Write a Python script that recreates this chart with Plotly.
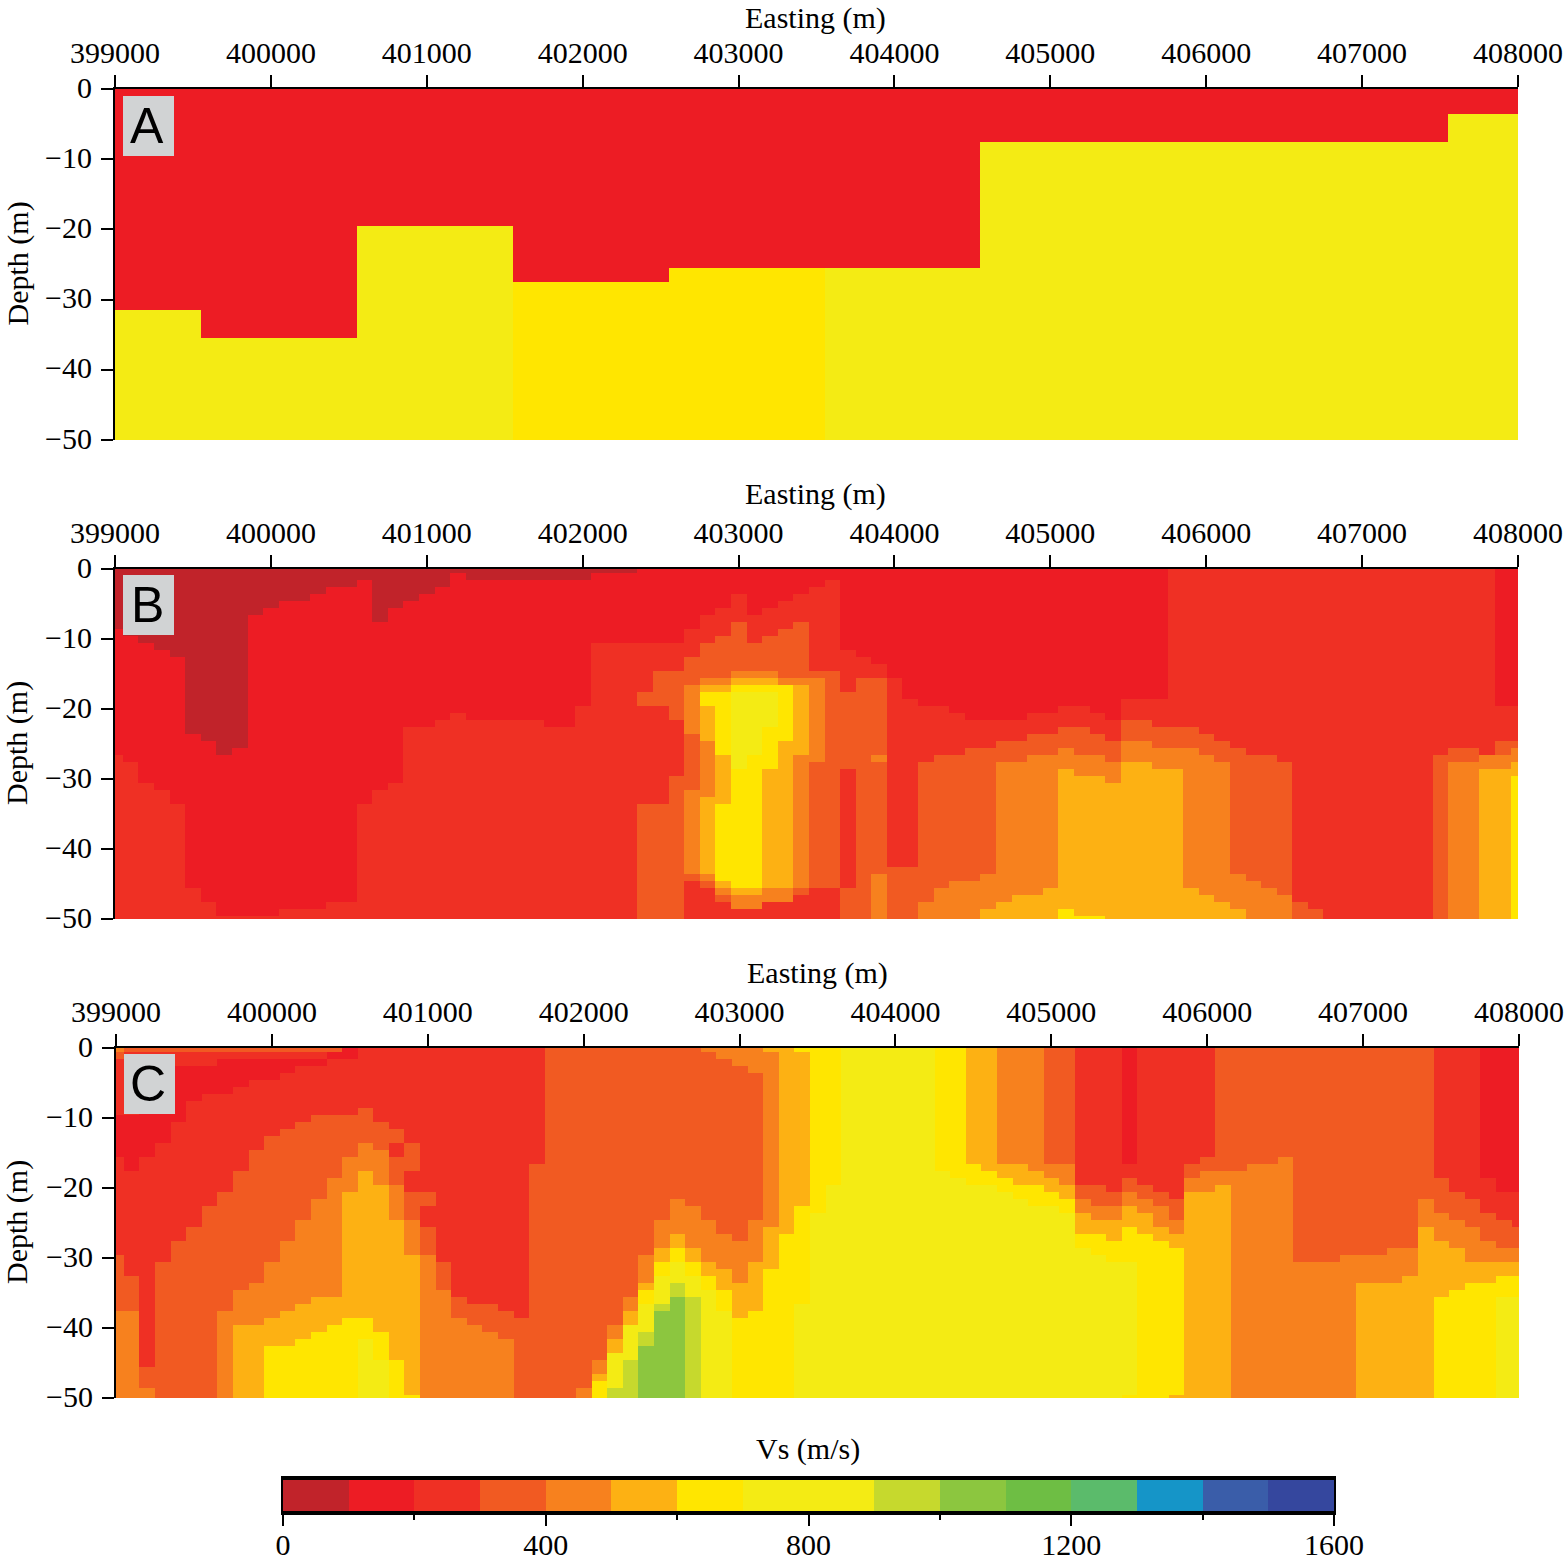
"""Shear wave velocity sections A, B and C with plotly"""
import plotly.graph_objects as go

# axes
easting = [399000 + 100 * i for i in range(91)]
depth = [-i for i in range(51)]
easting_ticks = [399000, 400000, 401000, 402000, 403000, 404000, 405000, 406000, 407000, 408000]
depth_ticks = [0, -10, -20, -30, -40, -50]
depth_labels = ['0', '\u221210', '\u221220', '\u221230', '\u221240', '\u221250']

# colour classes, 100 m/s wide
vs_classes = [50, 150, 250, 350, 450, 550, 650, 750, 850, 950, 1050, 1150, 1250, 1350, 1450, 1550]
vs_colors = ['#C1232A', '#ED1C24', '#EF3024', '#F15A22', '#F7811E', '#FDB113', '#FFE600', '#F4EB14',
             '#F4EB14', '#C6D92D', '#8CC63F', '#6EBE44', '#5BBB6B', '#1595C8', '#3A5DA9', '#35479E']
vs_ticks = [0, 400, 800, 1200, 1600]
vs_minor_ticks = [200, 600, 1000, 1400]

# every column below: (vs, deepest metre of that layer), from the surface down
# panel A: (number of columns, interface depth, vs below the interface)
panel_a_blocks = [(6, 31, 750), (10, 35, 750), (10, 19, 750), (10, 27, 650),
                  (10, 25, 650), (10, 25, 750), (30, 7, 750), (5, 3, 750)]

panel_b_columns = [
    [(50, 8), (150, 26), (250, 50)],
    [(50, 9), (150, 27), (250, 50)],
    [(50, 10), (150, 30), (250, 50)],
    [(50, 11), (150, 31), (250, 50)],
    [(50, 12), (150, 33), (250, 50)],
    [(50, 23), (150, 45), (250, 50)],
    [(50, 24), (150, 47), (250, 50)],
    [(50, 26), (150, 49), (250, 50)],
    [(50, 25), (150, 49), (250, 50)],
    [(50, 6), (150, 49), (250, 50)],
    [(50, 5), (150, 49), (250, 50)],
    [(50, 4), (150, 48), (250, 50)],
    [(50, 4), (150, 48), (250, 50)],
    [(50, 3), (150, 48), (250, 50)],
    [(50, 2), (150, 47), (250, 50)],
    [(50, 2), (150, 47), (250, 50)],
    [(50, 1), (150, 33), (250, 50)],
    [(50, 7), (150, 31), (250, 50)],
    [(50, 5), (150, 30), (250, 50)],
    [(50, 4), (150, 22), (250, 50)],
    [(50, 3), (150, 22), (250, 50)],
    [(50, 2), (150, 21), (250, 50)],
    [(50, 0), (150, 20), (250, 50)],
    [(50, 1), (150, 21), (250, 50)],
    [(50, 1), (150, 21), (250, 50)],
    [(50, 1), (150, 21), (250, 50)],
    [(50, 1), (150, 21), (250, 50)],
    [(50, 1), (150, 21), (250, 50)],
    [(50, 1), (150, 22), (250, 50)],
    [(50, 1), (150, 22), (250, 50)],
    [(50, 1), (150, 19), (250, 50)],
    [(50, 0), (150, 10), (250, 50)],
    [(50, 0), (150, 10), (250, 50)],
    [(50, 0), (150, 10), (250, 50)],
    [(150, 10), (250, 17), (350, 19), (250, 33), (350, 50)],
    [(150, 10), (250, 14), (350, 19), (250, 33), (350, 50)],
    [(150, 10), (250, 14), (350, 21), (250, 29), (350, 50)],
    [(150, 8), (250, 12), (350, 16), (450, 23), (350, 31), (450, 43), (350, 44), (250, 50)],
    [(150, 6), (250, 10), (350, 15), (450, 16), (550, 17), (650, 19), (550, 24), (450, 32), (550, 43), (450, 44), (350, 45), (250, 50)],
    [(150, 5), (250, 9), (350, 15), (450, 16), (550, 17), (650, 26), (550, 33), (650, 44), (550, 45), (450, 46), (350, 47), (250, 50)],
    [(150, 3), (250, 7), (350, 14), (450, 15), (550, 16), (650, 17), (750, 28), (650, 45), (550, 46), (450, 48), (250, 50)],
    [(150, 6), (250, 10), (350, 14), (450, 15), (550, 16), (650, 17), (750, 26), (650, 45), (550, 46), (450, 48), (250, 50)],
    [(150, 5), (250, 9), (350, 14), (450, 15), (550, 16), (650, 17), (750, 22), (650, 28), (550, 45), (450, 47), (250, 50)],
    [(150, 4), (250, 8), (350, 15), (450, 16), (650, 24), (550, 45), (450, 47), (250, 50)],
    [(150, 3), (250, 7), (350, 15), (450, 16), (550, 26), (450, 45), (350, 46), (250, 50)],
    [(150, 2), (250, 14), (350, 15), (450, 27), (350, 45), (250, 50)],
    [(150, 1), (250, 14), (350, 45), (250, 50)],
    [(150, 11), (250, 17), (350, 28), (250, 45), (350, 50)],
    [(150, 12), (250, 15), (350, 50)],
    [(150, 13), (250, 15), (350, 26), (450, 27), (350, 43), (450, 50)],
    [(150, 15), (250, 42), (350, 50)],
    [(150, 18), (250, 42), (350, 50)],
    [(150, 19), (250, 27), (350, 47), (450, 50)],
    [(150, 19), (250, 26), (350, 45), (450, 50)],
    [(150, 20), (250, 26), (350, 44), (450, 50)],
    [(150, 21), (250, 25), (350, 44), (450, 50)],
    [(150, 21), (250, 25), (350, 43), (450, 48), (550, 50)],
    [(150, 21), (250, 24), (350, 27), (450, 47), (550, 50)],
    [(150, 21), (250, 24), (350, 27), (450, 46), (550, 50)],
    [(150, 20), (250, 23), (350, 26), (450, 46), (550, 50)],
    [(150, 20), (250, 23), (350, 26), (450, 45), (550, 50)],
    [(150, 19), (250, 22), (350, 25), (450, 28), (550, 48), (650, 50)],
    [(150, 19), (250, 22), (350, 26), (450, 29), (550, 49), (650, 50)],
    [(150, 20), (250, 23), (350, 26), (450, 29), (550, 49), (650, 50)],
    [(150, 21), (250, 24), (350, 27), (450, 30), (550, 50)],
    [(150, 18), (250, 21), (350, 24), (450, 27), (550, 50)],
    [(150, 18), (250, 21), (350, 24), (450, 27), (550, 50)],
    [(150, 18), (250, 22), (350, 25), (450, 28), (550, 50)],
    [(250, 22), (350, 25), (450, 28), (550, 50)],
    [(250, 22), (350, 25), (450, 45), (550, 50)],
    [(250, 23), (350, 26), (450, 46), (550, 50)],
    [(250, 24), (350, 27), (450, 47), (550, 50)],
    [(250, 25), (350, 43), (450, 48), (550, 50)],
    [(250, 26), (350, 44), (450, 50)],
    [(250, 26), (350, 45), (450, 50)],
    [(250, 27), (350, 46), (450, 50)],
    [(250, 47), (350, 50)],
    [(250, 48), (350, 50)],
    [(250, 50)],
    [(250, 50)],
    [(250, 50)],
    [(250, 50)],
    [(250, 50)],
    [(250, 50)],
    [(250, 50)],
    [(250, 26), (350, 50)],
    [(250, 25), (350, 27), (450, 50)],
    [(250, 25), (350, 27), (450, 50)],
    [(250, 26), (450, 28), (550, 50)],
    [(150, 19), (250, 24), (350, 26), (450, 28), (550, 50)],
    [(150, 19), (250, 24), (350, 25), (450, 27), (550, 29), (650, 50)],
]

panel_c_columns = [
    [(450, 0), (350, 1), (250, 9), (150, 15), (250, 29), (350, 37), (450, 50)],
    [(350, 0), (250, 9), (150, 17), (250, 32), (350, 37), (450, 50)],
    [(350, 0), (250, 4), (150, 15), (250, 45), (350, 48), (450, 50)],
    [(350, 0), (250, 3), (150, 13), (250, 30), (350, 50)],
    [(350, 0), (250, 2), (150, 10), (250, 27), (350, 50)],
    [(350, 0), (250, 2), (150, 7), (250, 25), (350, 50)],
    [(350, 0), (250, 2), (150, 6), (250, 22), (350, 50)],
    [(350, 0), (250, 1), (150, 6), (250, 20), (350, 37), (450, 50)],
    [(350, 0), (250, 1), (150, 5), (250, 17), (350, 34), (450, 39), (550, 50)],
    [(350, 0), (250, 1), (150, 4), (250, 14), (350, 33), (450, 39), (550, 50)],
    [(350, 0), (250, 1), (150, 4), (250, 12), (350, 30), (450, 38), (550, 42), (650, 50)],
    [(350, 0), (250, 1), (150, 3), (250, 11), (350, 27), (450, 37), (550, 42), (650, 50)],
    [(350, 0), (250, 1), (150, 2), (250, 10), (350, 24), (450, 36), (550, 41), (650, 50)],
    [(350, 0), (250, 1), (150, 2), (250, 9), (350, 21), (450, 35), (550, 40), (650, 50)],
    [(350, 0), (150, 1), (250, 9), (350, 18), (450, 35), (550, 39), (650, 50)],
    [(150, 1), (250, 9), (350, 15), (450, 20), (550, 38), (650, 50)],
    [(250, 8), (350, 13), (450, 17), (550, 38), (650, 41), (750, 50)],
    [(250, 10), (350, 14), (450, 19), (550, 40), (650, 44), (750, 50)],
    [(250, 11), (350, 13), (250, 15), (350, 19), (450, 24), (550, 44), (650, 50)],
    [(250, 13), (350, 17), (250, 20), (350, 24), (450, 29), (550, 49), (650, 50)],
    [(250, 20), (350, 22), (250, 25), (350, 29), (450, 50)],
    [(250, 30), (350, 34), (450, 50)],
    [(250, 35), (350, 38), (450, 50)],
    [(250, 36), (350, 39), (450, 50)],
    [(250, 36), (350, 40), (450, 50)],
    [(250, 37), (350, 41), (450, 50)],
    [(250, 38), (350, 50)],
    [(250, 16), (350, 50)],
    [(350, 50)],
    [(350, 50)],
    [(350, 48), (450, 50)],
    [(350, 44), (450, 46), (550, 47), (650, 50)],
    [(350, 39), (450, 41), (550, 43), (750, 48), (950, 50)],
    [(350, 35), (450, 37), (550, 39), (750, 44), (950, 50)],
    [(350, 29), (450, 33), (550, 34), (650, 36), (750, 40), (950, 42), (1050, 50)],
    [(350, 24), (450, 28), (550, 30), (650, 32), (750, 36), (950, 37), (1050, 50)],
    [(350, 21), (450, 26), (550, 28), (650, 30), (750, 33), (950, 35), (1050, 50)],
    [(350, 22), (450, 28), (550, 30), (650, 32), (750, 35), (950, 50)],
    [(450, 0), (350, 24), (450, 30), (550, 32), (650, 34), (750, 50)],
    [(450, 1), (350, 26), (450, 31), (550, 34), (650, 37), (750, 50)],
    [(450, 2), (350, 27), (450, 33), (550, 38), (650, 50)],
    [(450, 3), (350, 24), (450, 30), (550, 37), (650, 50)],
    [(550, 0), (450, 25), (550, 31), (650, 50)],
    [(550, 26), (650, 50)],
    [(650, 0), (550, 22), (650, 36), (750, 50)],
    [(650, 23), (750, 50)],
    [(650, 19), (750, 50)],
    [(750, 50)],
    [(750, 50)],
    [(750, 50)],
    [(750, 50)],
    [(750, 50)],
    [(750, 50)],
    [(650, 17), (750, 50)],
    [(650, 18), (750, 50)],
    [(550, 16), (650, 19), (750, 50)],
    [(550, 17), (650, 19), (750, 50)],
    [(450, 16), (550, 18), (650, 20), (750, 50)],
    [(450, 16), (550, 19), (650, 21), (750, 50)],
    [(450, 17), (550, 19), (650, 22), (750, 50)],
    [(350, 16), (450, 18), (550, 20), (650, 22), (750, 50)],
    [(350, 16), (450, 19), (550, 21), (650, 23), (750, 50)],
    [(250, 19), (350, 21), (450, 23), (550, 26), (650, 28), (750, 50)],
    [(250, 19), (350, 22), (450, 24), (550, 26), (650, 29), (750, 50)],
    [(250, 20), (350, 22), (450, 24), (550, 27), (650, 30), (750, 50)],
    [(150, 16), (250, 18), (350, 20), (450, 22), (550, 25), (650, 30), (750, 49), (650, 50)],
    [(250, 19), (350, 21), (450, 23), (550, 26), (650, 50)],
    [(250, 20), (350, 22), (450, 25), (550, 27), (650, 50)],
    [(250, 21), (350, 24), (450, 26), (550, 28), (650, 49), (550, 50)],
    [(250, 16), (350, 18), (450, 20), (550, 50)],
    [(250, 15), (350, 17), (450, 20), (550, 50)],
    [(350, 17), (450, 19), (550, 50)],
    [(350, 17), (450, 50)],
    [(350, 16), (450, 50)],
    [(350, 16), (450, 50)],
    [(350, 15), (450, 50)],
    [(350, 30), (450, 50)],
    [(350, 30), (450, 50)],
    [(350, 30), (450, 50)],
    [(350, 29), (450, 50)],
    [(350, 29), (450, 33), (550, 50)],
    [(350, 29), (450, 33), (550, 50)],
    [(350, 28), (450, 33), (550, 50)],
    [(350, 28), (450, 32), (550, 50)],
    [(350, 21), (450, 25), (550, 50)],
    [(250, 18), (350, 23), (450, 27), (550, 35), (650, 50)],
    [(250, 20), (350, 24), (450, 28), (550, 34), (650, 50)],
    [(250, 21), (350, 25), (450, 30), (550, 33), (650, 50)],
    [(150, 18), (250, 23), (350, 27), (450, 30), (550, 33), (650, 50)],
    [(150, 20), (250, 24), (350, 28), (450, 30), (550, 32), (650, 35), (750, 50)],
    [(150, 20), (250, 25), (350, 28), (450, 30), (550, 32), (650, 35), (750, 50)],
]

W, H = 1567, 1560
FONT = 'Liberation Serif'
TEXT = dict(family=FONT, size=30, color='black')
colorscale = []
for i, color in enumerate(vs_colors):
    colorscale += [[i / 16, color], [(i + 1) / 16, color]]


def to_grid(columns):
    # columns of layers -> z[row][column]
    grid = [[0] * len(columns) for _ in depth]
    for c, layers in enumerate(columns):
        top = 0
        for vs, last in layers:
            for r in range(top, last + 1):
                grid[r][c] = vs
            top = last + 1
    return grid


panel_a_columns = []
for count, interface, below in panel_a_blocks:
    panel_a_columns += [[(150, interface), (below, 50)]] * count


def xdom(left, right):
    return [left / W, right / W]


def ydom(top, bottom):
    return [1 - bottom / H, 1 - top / H]


def label(text, x, y, font=TEXT, angle=0):
    return dict(text=text, xref='paper', yref='paper', x=x / W, y=1 - y / H, xanchor='center', yanchor='middle',
                showarrow=False, font=font, textangle=angle)


fig = go.Figure()
# letter, columns, plot left, top, bottom, title centre x and y, letter tag top
panels = [('A', panel_a_columns, 115, 89, 440, 815, 18, 96), ('B', panel_b_columns, 115, 569, 919, 815, 494, 575),
          ('C', panel_c_columns, 116, 1048, 1398, 817, 973, 1054)]
layout_axes = {}
annotations = []
shapes = []
for n, (letter, columns, left, top, bottom, title_x, title_y, tag_top) in enumerate(panels, start=1):
    suffix = '' if n == 1 else str(n)
    fig.add_trace(go.Heatmap(x=easting, y=depth, z=to_grid(columns), zmin=0, zmax=1600,
                             colorscale=colorscale, showscale=False,
                             xaxis='x' + suffix, yaxis='y' + suffix))
    layout_axes['xaxis' + suffix] = dict(
        domain=xdom(left, left + 1403), range=[399000, 408000], side='top', anchor='y' + suffix,
        tickvals=easting_ticks, ticktext=[str(t) for t in easting_ticks], ticks='outside', ticklen=12,
        tickwidth=2, tickcolor='black', showline=True, linewidth=2, linecolor='black', showgrid=False,
        zeroline=False, tickfont=TEXT, tickangle=0, automargin=False)
    layout_axes['yaxis' + suffix] = dict(
        domain=ydom(top, bottom), range=[-50, 0], anchor='x' + suffix,
        tickvals=depth_ticks, ticktext=depth_labels, ticks='outside', ticklen=12,
        tickwidth=2, tickcolor='black', showline=True, linewidth=2, linecolor='black', showgrid=False,
        zeroline=False, tickfont=TEXT, automargin=False, ticklabelstandoff=3, ticklabelshift=-2)
    annotations.append(label('Easting (m)', title_x, title_y))
    annotations.append(label('Depth (m)', 17, (top + bottom) / 2 - 1, angle=-90))
    # letter tag
    shapes.append(dict(type='rect', xref='paper', yref='paper', x0=(left + 8) / W, x1=(left + 59) / W,
                       y0=1 - (tag_top + 60) / H, y1=1 - tag_top / H, fillcolor='#D1D3D4', line_width=0,
                       layer='above'))
    annotations.append(label(letter, left + 32, tag_top + 30, font=dict(family='Liberation Sans', size=50, color='black')))

# colour bar as its own small axes, so the 200 ticks can be short
fig.add_trace(go.Heatmap(x=vs_classes, y=[0], z=[vs_classes], zmin=0, zmax=1600, colorscale=colorscale,
                         showscale=False, xaxis='x4', yaxis='y4'))
layout_axes['xaxis4'] = dict(
    domain=xdom(283, 1334), range=[0, 1600], anchor='y4', tickvals=vs_ticks, ticktext=[str(t) for t in vs_ticks],
    ticks='outside', ticklen=11, tickwidth=2, tickcolor='black', showline=True, mirror=True, linewidth=4,
    linecolor='black', showgrid=False, zeroline=False, tickfont=TEXT, automargin=False, ticklabelstandoff=-7,
    minor=dict(tickvals=vs_minor_ticks, ticks='outside', ticklen=5, tickwidth=1.5, tickcolor='black',
               showgrid=False))
layout_axes['yaxis4'] = dict(domain=ydom(1480, 1511), range=[-0.5, 0.5], anchor='x4', showticklabels=False,
                             ticks='', showline=True, mirror=True, linewidth=2, linecolor='black',
                             showgrid=False, zeroline=False, automargin=False)
annotations.append(label('Vs (m/s)', 808, 1449))

fig.update_layout(width=W, height=H, autosize=False, margin=dict(l=0, r=0, t=0, b=0), paper_bgcolor='white',
                  plot_bgcolor='white', annotations=annotations, shapes=shapes, **layout_axes)

fig.write_html('out.html', post_script="document.body.style.margin='0';", config=dict(displayModeBar=False))
